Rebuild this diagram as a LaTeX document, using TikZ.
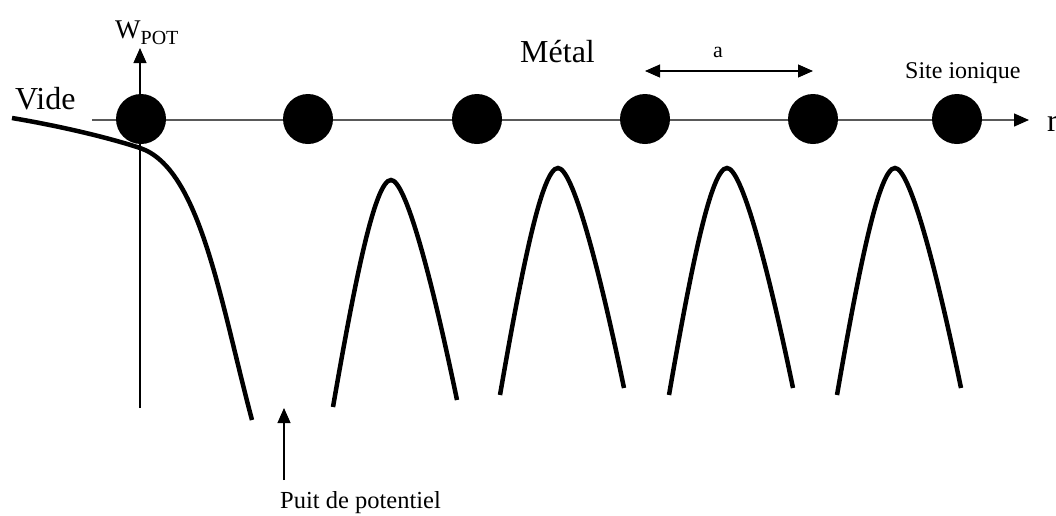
\documentclass[tikz,border=0pt]{standalone}
\usepackage{fontspec}
\setmainfont{Liberation Serif}
\usetikzlibrary{arrows.meta}
\begin{document}
\begin{tikzpicture}[x=1pt,y=-1pt,
  axis/.style={line width=1.1pt},
  lattice/.style={line width=1.4pt, black!65},
  site/.style={circle, fill=black, minimum size=50pt, inner sep=0pt},
  profile/.style={line width=4.5pt},
  tip/.style={-{Triangle[length=15pt,width=13pt,color=black]}},
  bothtips/.style={{Triangle[length=15pt,width=13pt]}-{Triangle[length=15pt,width=13pt]}},
  big/.style={font=\fontsize{32}{36}\selectfont, inner sep=0pt, anchor=base west},
  small/.style={font=\fontsize{24}{28}\selectfont, inner sep=0pt, anchor=base west},
  barrier/.pic={\draw[profile] (-58,227) .. controls (-36,100) and (-16,0) .. (0,0)
                 .. controls (14,0) and (39,90) .. (66,220);}
]
\useasboundingbox (0,0) rectangle (1056,515);

% axes
\coordinate (hstart) at (92,120);
\coordinate (hend) at (1029,120);
\coordinate (vbot) at (140,408);
\coordinate (vtop) at (140,48);
\draw[lattice, tip] (hstart) -- (hend);
\draw[axis, tip] (vbot) -- (vtop);

% ionic sites of the lattice
\node[site] (s1) at (141,119) {};
\node[site] (s2) at (308,119) {};
\node[site] (s3) at (477,119) {};
\node[site] (s4) at (645,119) {};
\node[site] (s5) at (813,119) {};
\node[site] (s6) at (957,119) {};

% lattice spacing
\coordinate (aL) at (645,71);
\coordinate (aR) at (813,71);
\draw[axis, bothtips] (aL) -- (aR);
\node[font=\fontsize{22}{24}\selectfont, inner sep=0pt, anchor=base] (alabel) at (718,57) {a};

% potential near the surface
\draw[profile] (12,118) .. controls (60,126) and (110,138) .. (140,148)
               .. controls (200,168) and (220,300) .. (252,420);

% barriers between the ions
\pic at (391,180) {barrier};
\pic at (558,168) {barrier};
\pic at (727,168) {barrier};
\pic at (895,168) {barrier};

% labels
\node[big] (vide) at (15,109) {Vide};
\node[big] (metal) at (520,62) {Métal};
\node[small] (sitelabel) at (905,78) {Site ionique};
\node[big] (rlabel) at (1047,131) {r};
\node[font=\fontsize{27}{30}\selectfont, inner sep=0pt, anchor=base west] (wpot) at (115,38)
  {W\raisebox{-6pt}{\fontsize{20}{22}\selectfont POT}};

% potential well marker
\node[font=\fontsize{24.5}{28}\selectfont, inner sep=0pt, anchor=base west] (well) at (280,508) {Puit de potentiel};
\coordinate (wellfoot) at (284,480);
\coordinate (welltip) at (284,408);
\draw[axis, tip] (wellfoot) -- (welltip);
\end{tikzpicture}
\end{document}
